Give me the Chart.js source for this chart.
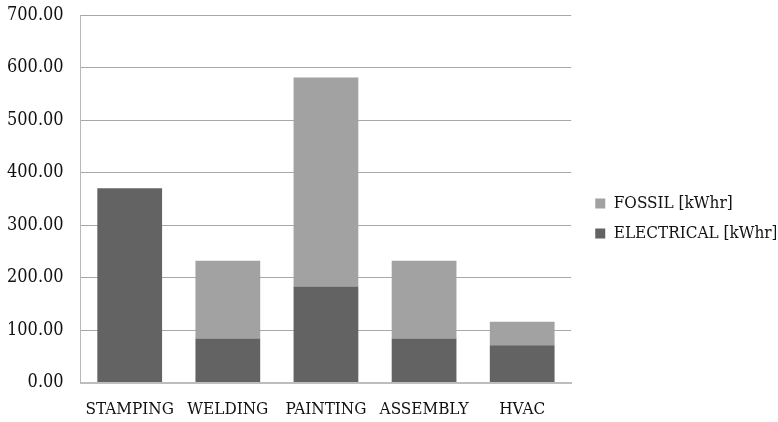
<!DOCTYPE html>
<html>
<head>
<meta charset="utf-8">
<script src="https://cdn.jsdelivr.net/npm/chart.js@4/dist/chart.umd.min.js"></script>
<style>
  html, body { margin: 0; padding: 0; background: #fff; }
  #wrap { width: 778px; height: 422px; }
</style>
</head>
<body>
<div id="wrap"><canvas id="chart" width="778" height="422"></canvas></div>
<script>
/* Consumo de energia por área: barras empilhadas elétrica + fóssil */
var areas = ["STAMPING", "WELDING", "PAINTING", "ASSEMBLY", "HVAC"];
var eletrica = [370, 84, 183, 84, 71];
var fossil = [0, 148, 398, 148, 45];
var yTicks = [0, 100, 200, 300, 400, 500, 600, 700];

var FONTE = "'DejaVu Serif Condensed', 'DejaVu Serif', serif";

// empurra a legenda um pouco para a direita, como no original
var ajusteLegenda = {
    id: "ajusteLegenda",
    afterLayout: function (chart) {
        var lg = chart.legend;
        if (!lg) return;
        lg.left += 11; lg.right += 11;
    }
};

new Chart(document.getElementById("chart"), {
    type: "bar",
    data: {
        labels: areas,
        datasets: [
            { label: "ELECTRICAL [kWhr]", data: eletrica, backgroundColor: "#636363", borderWidth: 0 },
            { label: "FOSSIL [kWhr]", data: fossil, backgroundColor: "#a2a2a2", borderWidth: 0 }
        ]
    },
    plugins: [ajusteLegenda],
    options: {
        responsive: false,
        animation: false,
        layout: { padding: { top: 0, right: 13, left: -10, bottom: -15 } },
        datasets: { bar: { categoryPercentage: 1, barPercentage: 0.66 } },
        plugins: {
            tooltip: { enabled: false },
            legend: {
                position: "right",
                reverse: true,
                labels: {
                    color: "#111",
                    font: { family: FONTE, size: 17 },
                    boxWidth: 10, boxHeight: 10, padding: 13
                }
            }
        },
        scales: {
            x: {
                stacked: true,
                grid: { display: false, drawTicks: false },
                border: { color: "#bdbdbd", width: 2 },
                ticks: { color: "#111", font: { family: FONTE, size: 17 }, padding: 17, maxRotation: 0 }
            },
            y: {
                stacked: true,
                min: 0, max: 700,
                afterBuildTicks: function (ax) { ax.ticks = yTicks.map(function (v) { return { value: v }; }); },
                afterFit: function (ax) { ax.paddingTop = 15; },
                grid: { color: "#a8a8a8", lineWidth: 1, drawTicks: false },
                border: { color: "#b8b8b8", width: 1 },
                ticks: {
                    color: "#111",
                    font: { family: FONTE, size: 18 },
                    padding: 17,
                    callback: function (v) { return Number(v).toFixed(2); }
                }
            }
        }
    }
});
</script>
</body>
</html>
